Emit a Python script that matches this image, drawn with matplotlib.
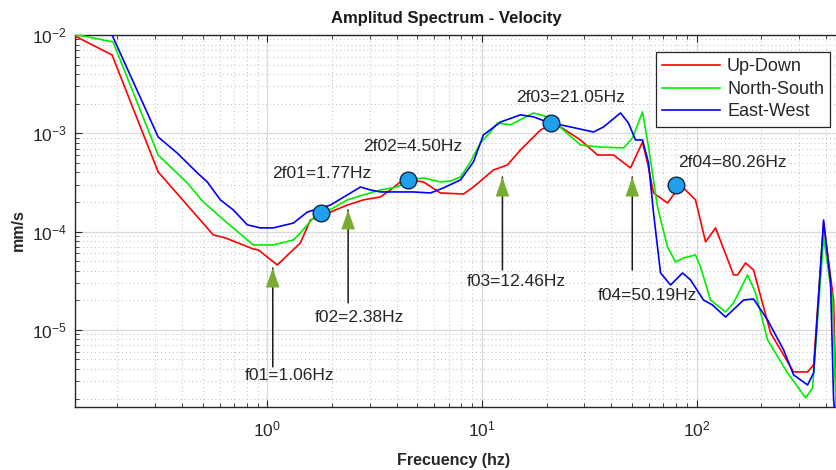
import matplotlib
matplotlib.use("Agg")
import matplotlib.pyplot as plt
import numpy as np
from matplotlib.ticker import LogLocator, NullFormatter

plt.rcParams['font.family'] = ['Liberation Sans', 'DejaVu Sans']
plt.rcParams['mathtext.fontset'] = 'custom'
plt.rcParams['mathtext.rm'] = 'Liberation Sans'

# ---------------- data ----------------
freq_ud = [0.127, 0.189, 0.310, 0.560, 0.637, 0.860, 0.908, 1.113, 1.425, 1.587, 1.967,
           2.360, 2.803, 3.364, 3.745, 4.169, 4.543, 5.338, 6.405, 8.200, 9.130, 11.31,
           13.15, 15.12, 18.74, 21.54, 23.23, 28.79, 34.56, 41.04, 49.24, 56.02, 59.11,
           63.03, 73.25, 84.24, 98.9, 110.2, 122.6, 148.8, 155.3, 169.2, 184.4, 221.3,
           283.3, 329.3, 351.2, 390.9, 435.2, 449.4]
amp_ud = [9.77e-3, 6.26e-3, 4.04e-4, 9.24e-5, 8.61e-5, 6.65e-5, 6.50e-5, 4.57e-5, 7.66e-5,
          1.31e-4, 1.58e-4, 1.86e-4, 2.10e-4, 2.25e-4, 2.65e-4, 3.20e-4, 3.35e-4, 3.20e-4,
          2.47e-4, 2.41e-4, 2.84e-4, 4.23e-4, 4.76e-4, 6.76e-4, 1.08e-3, 1.27e-3, 1.16e-3,
          8.55e-4, 6.01e-4, 6.01e-4, 4.44e-4, 8.15e-4, 4.99e-4, 2.47e-4, 1.95e-4, 2.98e-4,
          2.10e-4, 7.84e-5, 1.09e-4, 3.62e-5, 3.62e-5, 4.79e-5, 4.07e-5, 9.30e-6, 3.73e-6,
          3.73e-6, 4.40e-6, 1.22e-4, 2.01e-5, 1.2e-6]

freq_ns = [0.127, 0.139, 0.191, 0.310, 0.424, 0.503, 0.651, 0.860, 1.066, 1.322, 1.425,
           1.639, 2.031, 2.360, 2.803, 3.364, 4.037, 4.543, 5.338, 6.405, 7.131, 7.940,
           8.842, 9.84, 10.96, 11.81, 13.58, 17.39, 20.20, 23.99, 28.79, 35.69, 45.68,
           50.31, 56.02, 59.74, 65.80, 73.25, 79.83, 87.00, 98.9, 104.4, 116.2, 136.5,
           148.8, 172.9, 188.4, 214.3, 265.6, 322.3, 347.4, 390.9, 430.5, 449.4]
amp_ns = [1.0e-2, 9.77e-3, 8.49e-3, 6.01e-4, 3.12e-4, 2.00e-4, 1.22e-4, 7.31e-5, 7.31e-5,
          8.21e-5, 9.68e-5, 1.38e-4, 1.74e-4, 2.10e-4, 2.36e-4, 2.65e-4, 2.84e-4, 3.35e-4,
          3.51e-4, 3.20e-4, 3.27e-4, 3.59e-4, 5.11e-4, 7.97e-4, 1.03e-3, 1.27e-3, 1.22e-3,
          1.61e-3, 1.47e-3, 1.08e-3, 7.60e-4, 7.25e-4, 7.09e-4, 8.96e-4, 1.65e-3, 7.25e-4,
          1.78e-4, 6.97e-5, 4.91e-5, 5.39e-5, 5.78e-5, 4.36e-5, 2.01e-5, 1.52e-5, 1.88e-5,
          3.62e-5, 2.37e-5, 7.89e-6, 3.64e-6, 2.03e-6, 2.56e-6, 8.81e-5, 2.01e-5, 1.2e-6]

freq_ew = [0.127, 0.189, 0.310, 0.380, 0.472, 0.525, 0.604, 0.694, 0.807, 0.928, 1.066,
           1.322, 1.536, 1.967, 2.360, 2.714, 3.022, 3.364, 4.794, 5.754, 6.615, 7.940,
           9.130, 10.16, 12.20, 15.12, 17.39, 20.20, 25.86, 33.11, 36.86, 44.23, 48.19,
           51.96, 56.02, 59.74, 63.03, 67.97, 75.67, 86.07, 93.76, 107.8, 118.7, 136.5,
           165.6, 184.4, 214.3, 254.5, 283.3, 329.3, 351.2, 390.9, 421.4, 435.2, 444.6]
amp_ew = [1.42e-2, 1.0e-2, 9.17e-4, 6.30e-4, 3.95e-4, 3.20e-4, 2.10e-4, 1.66e-4, 1.17e-4,
          1.09e-4, 1.09e-4, 1.22e-4, 1.58e-4, 1.86e-4, 2.36e-4, 2.84e-4, 2.65e-4, 2.53e-4,
          2.53e-4, 2.47e-4, 2.78e-4, 3.35e-4, 5.11e-4, 9.61e-4, 1.30e-3, 1.54e-3, 1.47e-3,
          1.30e-3, 1.16e-3, 1.03e-3, 1.16e-3, 1.61e-3, 1.27e-3, 8.55e-4, 8.55e-4, 4.99e-4,
          1.55e-4, 3.79e-5, 2.86e-5, 3.79e-5, 3.22e-5, 2.01e-5, 1.79e-5, 1.35e-5, 2.01e-5,
          2.06e-5, 1.26e-5, 6.25e-6, 3.48e-6, 2.75e-6, 3.64e-6, 1.31e-4, 3.00e-5, 1.94e-6, 1.2e-6]

series_names = ['Up-Down', 'North-South', 'East-West']

# fundamental frequencies (arrows)
f0_values = [1.06, 2.38, 12.46, 50.19]
f0_labels = ['f01=1.06Hz', 'f02=2.38Hz', 'f03=12.46Hz', 'f04=50.19Hz']
f0_tip_amp = [4.26e-5, 1.66e-4, 3.59e-4, 3.59e-4]
f0_tail_amp = [4.20e-6, 1.88e-5, 4.07e-5, 4.07e-5]
f0_text_pos = [(1.266, 3.40e-6), (2.685, 1.32e-5), (14.5, 3.07e-5), (59.1, 2.26e-5)]

# 2f peaks (markers)
f2_values = [1.77, 4.50, 21.05, 80.26]
f2_amp = [1.55e-4, 3.35e-4, 1.27e-3, 2.98e-4]
f2_labels = ['2f01=1.77Hz', '2f02=4.50Hz', '2f03=21.05Hz', '2f04=80.26Hz']
f2_text_pos = [(1.80, 3.94e-4), (4.74, 7.26e-4), (25.9, 2.29e-3), (147, 5.1e-4)]

# ---------------- figure ----------------
W, H = 837, 470
fig = plt.figure(figsize=(W / 100, H / 100), dpi=100)
ax = fig.add_axes([75 / W, 63 / H, 761.5 / W, 372 / H])
ax.set_xscale('log')
ax.set_yscale('log')

ax.plot(freq_ud, amp_ud, color='#ff0000', lw=1.2, label=series_names[0], zorder=3)
ax.plot(freq_ns, amp_ns, color='#00ee00', lw=1.2, label=series_names[1], zorder=3)
ax.plot(freq_ew, amp_ew, color='#0000ff', lw=1.2, label=series_names[2], zorder=3)

ax.set_xlim(0.127, 449)
ax.set_ylim(1.64e-6, 1e-2)

green = '#77ac30'
for f, vt, va, lab, (tx, ty) in zip(f0_values, f0_tip_amp, f0_tail_amp, f0_labels, f0_text_pos):
    ax.annotate('', xy=(f, vt), xytext=(f, va),
                arrowprops=dict(arrowstyle='-', color='#1a1a1a', lw=1.1,
                                shrinkA=0, shrinkB=0), zorder=6)
    ax.annotate('', xy=(f, vt), xytext=(0, -13), textcoords='offset points',
                arrowprops=dict(arrowstyle='-|>,head_length=1.3,head_width=0.45',
                                fc=green, ec=green, lw=0.5, shrinkA=0, shrinkB=0),
                zorder=7)
    ax.text(tx, ty, lab, ha='center', va='center', fontsize=12.5, color='#262626', zorder=8)

ax.plot(f2_values, f2_amp, 'o', ms=12, mfc='#1ea0ef', mec='#0d2740', mew=1.0, zorder=9)
for lab, (tx, ty) in zip(f2_labels, f2_text_pos):
    ax.text(tx, ty, lab, ha='center', va='center', fontsize=12.5, color='#262626', zorder=8)

# ticks & grid
ax.set_xticks([1, 10, 100])
ax.set_yticks([1e-5, 1e-4, 1e-3, 1e-2])
ax.xaxis.set_minor_locator(LogLocator(base=10, subs=np.arange(2, 10), numticks=30))
ax.yaxis.set_minor_locator(LogLocator(base=10, subs=np.arange(2, 10), numticks=30))
ax.xaxis.set_minor_formatter(NullFormatter())
ax.yaxis.set_minor_formatter(NullFormatter())
ax.tick_params(which='both', direction='in', top=True, right=False, color='#262626',
               labelcolor='#262626')
ax.tick_params(which='major', length=5, width=0.8, labelsize=12.5)
ax.tick_params(which='minor', length=3, width=0.6)
ax.tick_params(axis='y', which='major', pad=6)
ax.tick_params(axis='x', which='major', pad=9)
ax.grid(True, which='major', color='#d9d9d9', lw=0.9, zorder=0)
ax.grid(True, which='minor', color='#bdbdbd', ls=(0, (1, 3)), lw=0.7, zorder=0)
ax.set_axisbelow(True)

for s in ['left', 'bottom', 'top']:
    ax.spines[s].set_color('#262626')
    ax.spines[s].set_linewidth(1.0)
ax.spines['right'].set_visible(False)

leg = ax.legend(loc='upper right', bbox_to_anchor=(0.992, 0.954), fontsize=13,
                frameon=True, fancybox=False, framealpha=1, edgecolor='#262626',
                handlelength=3.2, labelspacing=0.3, borderpad=0.35, handletextpad=0.4,
                borderaxespad=0)
leg.get_frame().set_linewidth(0.9)
for t in leg.get_texts():
    t.set_color('#262626')

fig.text(446 / W, 1 - 18 / H, 'Amplitud Spectrum - Velocity', ha='center', va='center',
         fontsize=12, fontweight='bold', color='#1a1a1a')
fig.text(454 / W, 1 - 461 / H, 'Frecuency (hz)', ha='center', va='center',
         fontsize=11.5, fontweight='bold', color='#262626')
fig.text(18 / W, 1 - 230 / H, 'mm/s', ha='center', va='center', rotation=90,
         fontsize=11.5, fontweight='bold', color='#262626')

fig.savefig('out.png', dpi=100)
